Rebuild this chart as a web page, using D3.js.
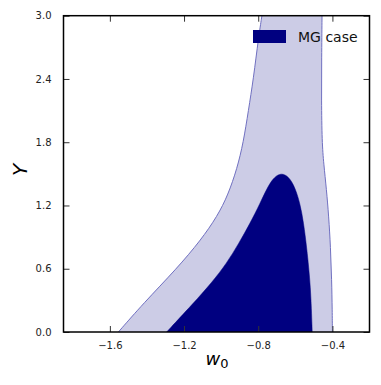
<!DOCTYPE html>
<html>
<head>
<meta charset="utf-8">
<script src="https://cdn.jsdelivr.net/npm/d3@7"></script>
<style>
  body { margin: 0; background: #fff; }
  text { font-family: "DejaVu Sans", sans-serif; }
</style>
</head>
<body>
<div id="chart"></div>
<script>
// contour edges: [w0, Y]
const outerLeft = [[-1.554, 0], [-1.42, 0.27], [-1.24, 0.6], [-1.11, 0.87], [-1.02, 1.1],
    [-0.963, 1.3], [-0.914, 1.55], [-0.88, 1.8], [-0.853, 2.1], [-0.826, 2.4],
    [-0.798, 2.8], [-0.780, 3.0]];
const outerRight = [[-0.456, 3.0], [-0.458, 2.6], [-0.459, 2.2], [-0.456, 1.8], [-0.447, 1.6],
    [-0.432, 1.35], [-0.42, 1.1], [-0.41, 0.8], [-0.404, 0.5], [-0.401, 0.2], [-0.400, 0]];
const inner = [[-1.294, 0], [-1.15, 0.272], [-1.05, 0.47], [-0.97, 0.652], [-0.905, 0.84],
    [-0.844, 1.031], [-0.79, 1.22], [-0.754, 1.36], [-0.719, 1.46], [-0.683, 1.505],
    [-0.647, 1.49], [-0.61, 1.41], [-0.575, 1.23], [-0.555, 1.03], [-0.539, 0.809],
    [-0.517, 0.43], [-0.509, 0]];

const xTicks = [-1.6, -1.2, -0.8, -0.4];
const yTicks = [0.0, 0.6, 1.2, 1.8, 2.4, 3.0];
const legendLabel = "MG case";

const width = 381, height = 385;
const margin = { left: 63.5, right: 369.5, top: 15.7, bottom: 332 };

const svg = d3.select("#chart").append("svg")
    .attr("width", width)
    .attr("height", height);

const x = d3.scaleLinear().domain([-1.85, -0.2]).range([margin.left, margin.right]);
const y = d3.scaleLinear().domain([0, 3]).range([margin.bottom, margin.top]);

svg.append("clipPath").attr("id", "clip")
    .append("rect")
    .attr("x", margin.left).attr("y", margin.top)
    .attr("width", margin.right - margin.left).attr("height", margin.bottom - margin.top);

const line = d3.line()
    .x(d => x(d[0]))
    .y(d => y(d[1]))
    .curve(d3.curveBasis);

const plot = svg.append("g").attr("clip-path", "url(#clip)");

// outer (light) region
plot.append("path")
    .attr("d", line(outerLeft) + "L" + line(outerRight).slice(1) + "Z")
    .attr("fill", "#cccce6");

plot.append("path").attr("d", line(outerLeft))
    .attr("fill", "none").attr("stroke", "#7070c0").attr("stroke-width", 1);
plot.append("path").attr("d", line(outerRight))
    .attr("fill", "none").attr("stroke", "#7070c0").attr("stroke-width", 1);

// inner (dark) region
plot.append("path")
    .attr("d", line(inner) + "Z")
    .attr("fill", "#000080")
    .attr("stroke", "#000080")
    .attr("stroke-width", 0.5);

// axes
const fmt = d3.format(".1f");

svg.append("g")
    .attr("transform", `translate(0,${margin.bottom})`)
    .call(d3.axisBottom(x).tickValues(xTicks).tickFormat(fmt).tickSizeInner(-6).tickSizeOuter(0).tickPadding(10))
    .call(g => g.select(".domain").remove())
    .call(g => g.selectAll("text").style("font-size", "10px").attr("fill", "#222"));

svg.append("g")
    .attr("transform", `translate(0,${margin.top})`)
    .call(d3.axisTop(x).tickValues(xTicks).tickFormat("").tickSizeInner(-6).tickSizeOuter(0))
    .call(g => g.select(".domain").remove());

svg.append("g")
    .attr("transform", `translate(${margin.left},0)`)
    .call(d3.axisLeft(y).tickValues(yTicks).tickFormat(fmt).tickSizeInner(-6).tickSizeOuter(0).tickPadding(12))
    .call(g => g.select(".domain").remove())
    .call(g => g.selectAll("text").style("font-size", "10px").attr("fill", "#222"));

svg.append("g")
    .attr("transform", `translate(${margin.right},0)`)
    .call(d3.axisRight(y).tickValues(yTicks).tickFormat("").tickSizeInner(-6).tickSizeOuter(0))
    .call(g => g.select(".domain").remove());

svg.selectAll(".tick line").attr("stroke", "#333");

// frame
svg.append("rect")
    .attr("x", margin.left).attr("y", margin.top)
    .attr("width", margin.right - margin.left).attr("height", margin.bottom - margin.top)
    .attr("fill", "none")
    .attr("stroke", "#000")
    .attr("stroke-width", 1.5);

// axis labels
const xl = svg.append("text")
    .attr("x", 217).attr("y", 365)
    .attr("text-anchor", "middle")
    .style("font-size", "18px");
xl.append("tspan").style("font-style", "italic").text("w");
xl.append("tspan").attr("dy", 3).style("font-size", "13px").text("0");

svg.append("text")
    .attr("transform", "translate(27,170) rotate(-90)")
    .attr("text-anchor", "middle")
    .style("font-size", "20px")
    .style("font-style", "italic")
    .text("Y");

// legend
svg.append("rect")
    .attr("x", 253).attr("y", 30)
    .attr("width", 33).attr("height", 13)
    .attr("fill", "#000080");
svg.append("text")
    .attr("x", 298).attr("y", 42)
    .style("font-size", "14px")
    .attr("fill", "#111")
    .text(legendLabel);
</script>
</body>
</html>
